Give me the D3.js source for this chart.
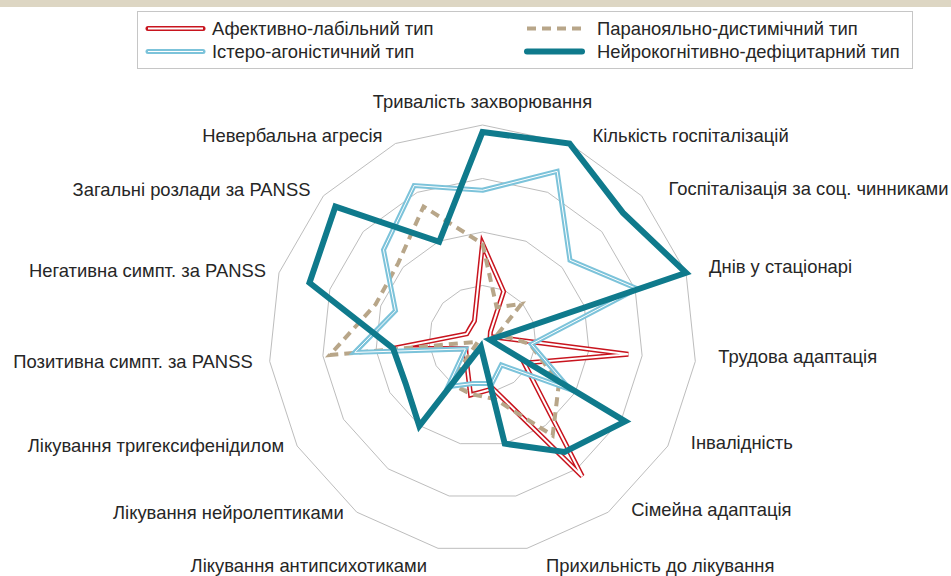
<!DOCTYPE html>
<html>
<head>
<meta charset="utf-8">
<script src="https://cdn.jsdelivr.net/npm/d3@7"></script>
<style>
  body { margin: 0; background: #fff; }
  svg { display: block; }
  text { font-family: "Liberation Sans", Arial, sans-serif; fill: #262626; }
</style>
</head>
<body>
<div id="chart"></div>
<script>
const width = 951;
const height = 576;

// axis labels, clockwise from the top
const axes = [
  "Тривалість захворювання",
  "Кількість госпіталізацій",
  "Госпіталізація за соц. чинниками",
  "Днів у стаціонарі",
  "Трудова адаптація",
  "Інвалідність",
  "Сімейна адаптація",
  "Прихильність до лікування",
  "Лікування антипсихотиками",
  "Лікування нейролептиками",
  "Лікування тригексифенідилом",
  "Позитивна симпт. за PANSS",
  "Негативна симпт. за PANSS",
  "Загальні розлади за PANSS",
  "Невербальна агресія"
];

// values (grid rings at 1, 2, 3, 4)
const affective = [1.78, 0.97, 0.2, 0.15, 2.74, 0.9, 3.17, 0.95, 1.07, 0.51, 0.36, 1.66, 0.31, 0.31, 0.37];
const paranoid  = [1.78, 0.65, 0.98, 0.3, 0.89, 1.65, 2.23, 1.15, 1.05, 1.03, 0.1, 2.87, 2.1, 2.12, 2.71];
const hysteric  = [2.78, 3.43, 2.2, 3.04, 0.92, 1.89, 0.6, 0.85, 0.85, 1.1, 0.37, 2.4, 1.71, 2.49, 3.14];
const neuro     = [3.87, 4.0, 3.53, 4.0, 0.14, 3.08, 2.61, 2.0, 0.15, 2.01, 1.66, 1.68, 3.4, 3.7, 1.99];
const rings = [1, 2, 3, 4];

const seriesNames = [
  "Афективно-лабільний тип",
  "Паранояльно-дистимічний тип",
  "Істеро-агоністичний тип",
  "Нейрокогнітивно-дефіцитарний тип"
];

// drawing order = excel series order
const series = [
  { name: seriesNames[0], values: affective, color: "#c8141e", w: 5, inner: 2 },
  { name: seriesNames[1], values: paranoid, color: "#b8a689", w: 4, dash: "9,6" },
  { name: seriesNames[2], values: hysteric, color: "#7cc3da", w: 5, inner: 1 },
  { name: seriesNames[3], values: neuro, color: "#0f7a8c", w: 6 }
];

const cx = 482.5;
const cy = 339;
const R = 214;
const n = axes.length;
const fontSize = 18.4;

const svg = d3.select("#chart")
  .append("svg")
  .attr("width", width)
  .attr("height", height);

// beige strip on top
svg.append("rect").attr("x", 0).attr("y", 0).attr("width", width).attr("height", 7).attr("fill", "#ddd6c3");

const rScale = d3.scaleLinear().domain([0, 4]).range([0, R]);
const angle = i => i * 2 * Math.PI / n;

const radar = d3.lineRadial()
  .angle((d, i) => angle(i))
  .radius(d => rScale(d))
  .curve(d3.curveLinearClosed);

const g = svg.append("g").attr("transform", `translate(${cx},${cy})`);

// grid polygons
g.selectAll(".ring")
  .data(rings)
  .enter()
  .append("path")
  .attr("d", r => radar(d3.range(n).map(() => r)))
  .attr("fill", "none")
  .attr("stroke", "#bdbdbd")
  .attr("stroke-width", 1);

// series
series.forEach(s => {
  const p = g.append("path")
    .attr("d", radar(s.values))
    .attr("fill", "none")
    .attr("stroke", s.color)
    .attr("stroke-width", s.w)
    .attr("stroke-linejoin", "miter");
  if (s.dash) p.attr("stroke-dasharray", s.dash);
  if (s.inner) {
    g.append("path")
      .attr("d", radar(s.values))
      .attr("fill", "none")
      .attr("stroke", "#fff")
      .attr("stroke-width", s.inner)
      .attr("stroke-linejoin", "miter");
  }
});

// axis labels
axes.forEach((label, i) => {
  const a = angle(i);
  const s = Math.sin(a), c = Math.cos(a);
  const vx = cx + R * s, vy = cy - R * c;
  let x, y, anchor;
  if (i === 0) {
    x = vx; y = vy - 23; anchor = "middle";
  } else if (i === 7 || i === 8) {
    x = vx + (s > 0 ? 19 : -11); y = vy + 17; anchor = s > 0 ? "start" : "end";
  } else if (s > 0) {
    x = vx + (i === 2 ? 27 : 23); y = vy - 5 - 3 * c; anchor = "start";
  } else {
    x = vx - (i === 11 ? 17 : 13); y = vy - 9 * Math.max(c, 0); anchor = "end";
  }
  svg.append("text")
    .attr("x", x)
    .attr("y", y)
    .attr("dy", "0.35em")
    .attr("text-anchor", anchor)
    .attr("font-size", fontSize)
    .text(label);
});

// legend
svg.append("rect")
  .attr("x", 137.5).attr("y", 11.5)
  .attr("width", 775).attr("height", 57)
  .attr("fill", "#fff")
  .attr("stroke", "#c6c6c6");

const legendPos = [
  { x: 148, y: 28.5, tx: 212 },
  { x: 527, y: 28.5, tx: 597 },
  { x: 148, y: 51.5, tx: 212 },
  { x: 527, y: 51.5, tx: 597 }
];

series.forEach((s, i) => {
  const { x, y, tx } = legendPos[i];
  const ln = svg.append("line")
    .attr("x1", x).attr("x2", x + 55)
    .attr("y1", y).attr("y2", y)
    .attr("stroke", s.color)
    .attr("stroke-width", s.w)
    .attr("stroke-linecap", s.dash ? "butt" : "round");
  if (s.dash) ln.attr("stroke-dasharray", s.dash);
  if (s.inner) {
    svg.append("line")
      .attr("x1", x).attr("x2", x + 55)
      .attr("y1", y).attr("y2", y)
      .attr("stroke", "#fff")
      .attr("stroke-width", s.inner);
  }
  svg.append("text")
    .attr("x", tx)
    .attr("y", y)
    .attr("dy", "0.35em")
    .attr("font-size", fontSize)
    .text(s.name);
});
</script>
</body>
</html>
